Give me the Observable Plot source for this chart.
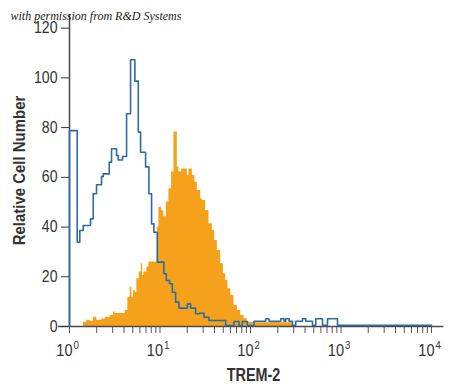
<!DOCTYPE html>
<html><head><meta charset="utf-8">
<script src="https://cdn.jsdelivr.net/npm/d3@7"></script>
<script src="https://cdn.jsdelivr.net/npm/@observablehq/plot@0.6"></script>
<style>
html,body{margin:0;padding:0;background:#fff;}
</style></head>
<body><div id="chart"></div>
<script>
// Isotype control (blue outline histogram): bin start (TREM-2 intensity) and count
const blueX = [1, 1, 1.217, 1.300, 1.418, 1.707, 1.829, 1.989, 2.259, 2.359, 2.750, 2.915, 3.311, 3.457, 3.858, 4.272, 4.729, 5.277, 5.754, 6.101, 6.928, 7.539, 8.074, 8.560, 9.335, 11.04, 11.74, 12.77, 13.68, 14.88, 16.19, 20.05, 21.81, 24.77, 27.43, 30.59, 34.75, 53.19, 65.70, 74.62, 81.37, 92.41, 109.3, 147.3, 160.2, 215.8, 234.8, 245.1, 266.7, 290.8, 316.2, 375.1, 408.0, 483.8, 526.2, 624.4, 709.1, 914.9, 10000];
const blueY = [0, 78.8, 33.9, 38.6, 40.6, 43.3, 53.4, 57.0, 60.3, 61.4, 66.1, 71.5, 68.8, 67.0, 68.4, 85.6, 107.3, 98.7, 78.2, 70.1, 64.2, 53.4, 41.3, 37.9, 25.9, 21.2, 18.5, 17.2, 13.8, 9.8, 7.4, 9.1, 7.4, 5.1, 5.3, 3.7, 2.4, 0.4, 2.0, 0.4, 2.0, 0.4, 2.1, 3.1, 2.1, 3.1, 2.1, 3.1, 2.1, 0.5, 2.1, 3.1, 2.1, 0.5, 3.1, 0.5, 3.1, 0.5, 0.5];

// TREM-2 stained cells (orange filled histogram)
const orangeX = [1.428, 1.554, 1.694, 1.843, 2.004, 2.277, 2.483, 2.819, 3.067, 3.203, 4.133, 4.415, 4.693, 4.889, 5.105, 5.331, 5.553, 5.902, 6.21, 6.42, 6.64, 7.164, 7.539, 9.335, 9.723, 10.42, 11.04, 11.74, 12.54, 13.44, 14.25, 15.54, 16.19, 17.34, 20.05, 20.88, 22.77, 24.33, 25.86, 28.12, 29.37, 31.94, 34.75, 37.89, 40.18, 43.04, 46.82, 50.14, 53.19, 56.39, 60.39, 65.70, 71.64, 77.93, 84.77, 92.41, 109.3, 167.3, 215.8, 290.8];
const orangeY = [1.7, 2.5, 2.1, 3.7, 2.5, 3.0, 3.7, 4.4, 5.8, 5.2, 6.4, 11.8, 15.8, 11.8, 14.5, 13.8, 19.2, 21.9, 25.2, 20.5, 21.9, 23.9, 25.9, 40.0, 48.0, 46.6, 44.1, 50.1, 55.4, 62.1, 78.2, 64.2, 62.1, 63.4, 60.7, 63.4, 60.7, 58.0, 54.7, 51.4, 50.7, 46.7, 41.3, 38.6, 34.6, 30.6, 25.2, 21.2, 18.5, 15.2, 12.5, 8.4, 6.4, 4.4, 3.1, 1.7, 1.5, 1.8, 1.5, 0];

// Axis ticks and labels
const yTicks = [0, 20, 40, 60, 80, 100, 120];
const decades = [1, 10, 100, 1000, 10000];
const exponents = ["0", "1", "2", "3", "4"];
const minorSteps = [2, 3, 4, 5, 6, 7, 8, 9];
const xTitle = "TREM-2";
const yTitle = "Relative Cell Number";
const credit = "with permission from R&D Systems";

const blue = blueX.map((x, i) => ({x, y: blueY[i]}));
const orange = orangeX.map((x, i) => ({x, y: orangeY[i]}));
const xTicks = decades.flatMap((d, i) => i < decades.length - 1 ? [d, ...minorSteps.map(m => d * m)] : [d]);
const decadeLabels = decades.map((d, i) => ({d, e: exponents[i]}));

const FONT = "'Liberation Sans', Arial, sans-serif";
const ORANGE = "#F5A11C";
const BLUE = "#2C6CA6";
const AXIS = "#4a4a4a";
const TEXT = "#333";
const XTITLE_SIZE = 19;

const chart = Plot.plot({
  width: 450, height: 389,
  marginLeft: 69, marginRight: 19, marginTop: 14, marginBottom: 63,
  x: {type: "log", domain: [1, 10000]},
  y: {domain: [0, 125.5]},
  style: {fontFamily: FONT, background: "#fff", overflow: "visible"},
  marks: [
    Plot.areaY(orange, {x: "x", y: "y", curve: "step-after", fill: ORANGE}),
    Plot.ruleY([0], {x1: 0.756, x2: 13700, stroke: AXIS, strokeWidth: 1.5}),
    Plot.ruleX([1], {y1: 0, y2: 125.5, stroke: AXIS, strokeWidth: 1.5}),
    Plot.axisY({ticks: yTicks, tickSize: 8, tickPadding: 4, fontSize: 16, color: TEXT, label: null}),
    Plot.axisX({ticks: xTicks, tickSize: 7, tickFormat: () => "", color: "#555", label: null}),
    Plot.text(decadeLabels, {x: "d", y: 0, text: () => "10", textAnchor: "end", lineAnchor: "bottom", dx: 3, dy: 29, fontSize: 16.5, fill: TEXT}),
    Plot.text(decadeLabels, {x: "d", y: 0, text: "e", textAnchor: "start", lineAnchor: "bottom", dx: 4, dy: 22, fontSize: 11, fill: TEXT}),
    Plot.text([yTitle], {frameAnchor: "left", rotate: -90, textAnchor: "middle", dx: -45, lineAnchor: "bottom", fontSize: 17, fontWeight: "bold", fill: TEXT}),
    Plot.text([xTitle], {frameAnchor: "bottom", textAnchor: "middle", dx: 3, dy: 54, lineAnchor: "bottom", fontSize: XTITLE_SIZE, fontWeight: "bold", fill: TEXT}),
    Plot.text([credit], {frameAnchor: "top-left", dx: -59, dy: 5, textAnchor: "start", lineAnchor: "bottom", fontSize: 12, fontStyle: "italic", fontFamily: "'Liberation Serif', 'DejaVu Serif', serif", fill: "#222"}),
    Plot.line(blue, {x: "x", y: "y", curve: "step-after", stroke: BLUE, strokeWidth: 1.6})
  ]
});

// squeeze sans-serif labels horizontally around their anchor (condensed look)
d3.select(chart).selectAll("text").each(function() {
  const g = this.closest("g");
  if (g && g.getAttribute("font-style") === "italic") return;
  const size = g ? +g.getAttribute("font-size") : 0;
  const squeeze = size === XTITLE_SIZE ? 0.76 : 0.88;
  const t = this.getAttribute("transform") || "";
  this.setAttribute("transform", (t + ` scale(${squeeze},1)`).trim());
});

document.getElementById("chart").appendChild(chart);
</script>
</body></html>
